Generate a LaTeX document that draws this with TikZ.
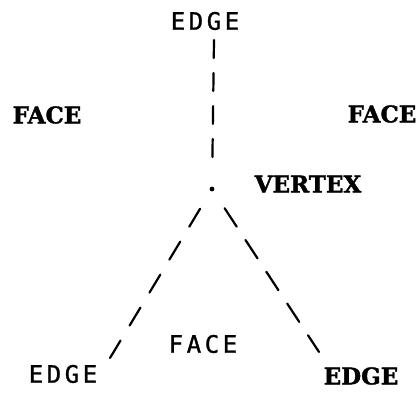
\documentclass[tikz,border=0pt]{standalone}
\usepackage{fontspec}
\setmainfont{DejaVu Serif}[BoldFeatures={FakeBold=1.6}]
\newfontfamily\handfont[LetterSpace=15, FakeBold=1.2]{DejaVu Sans Mono}

\begin{document}
\begin{tikzpicture}[x=1pt,y=-1pt,
  boldlabel/.style={font=\fontsize{23}{23}\selectfont\bfseries, inner sep=0pt},
  handlabel/.style={font=\handfont\fontsize{24}{24}\selectfont, inner sep=0pt},
  edgeline/.style={line width=2.2pt, line cap=round}]
\useasboundingbox (0,0) rectangle (420,393);
\coordinate (vertex) at (212,189);
\coordinate (topend) at (214,40);
\coordinate (leftend) at (110,358);
\coordinate (rightend) at (319,352);
\fill (vertex) circle (2.4);
\node[handlabel] (topedge) at (205,21) {EDGE};
\node[boldlabel] (leftface) at (47,115) {FACE};
\node[boldlabel] (rightface) at (382,114) {FACE};
\node[boldlabel] (vertexlabel) at (308,184) {VERTEX};
\node[handlabel] (midface) at (203,344) {FACE};
\node[handlabel] (leftedge) at (63,374) {EDGE};
\node[boldlabel] (rightedge) at (361,376) {EDGE};
\draw[edgeline, dash pattern=on 18pt off 15pt, shorten >=32pt] (topend) -- (vertex);
\draw[edgeline, dash pattern=on 21pt off 17.5pt, shorten <=23pt] (vertex) -- (leftend);
\draw[edgeline, dash pattern=on 22pt off 16pt, shorten <=23pt] (vertex) -- (rightend);
\end{tikzpicture}
\end{document}
